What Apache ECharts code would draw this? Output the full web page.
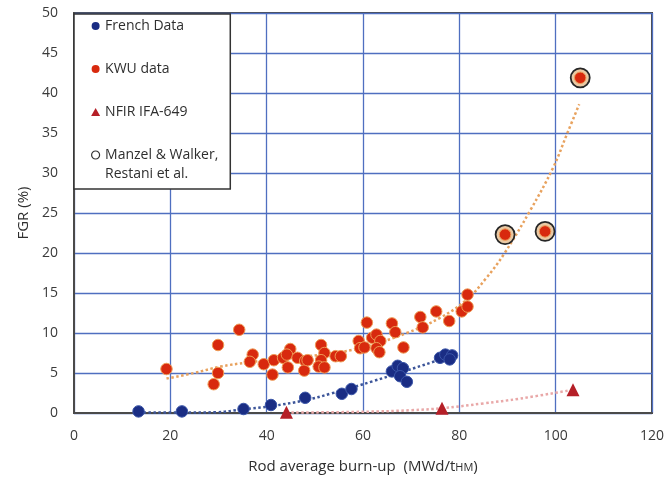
<!DOCTYPE html>
<html>
<head>
<meta charset="utf-8">
<script src="https://cdn.jsdelivr.net/npm/echarts@6/dist/echarts.min.js"></script>
<style>
html,body{margin:0;padding:0;background:#fff;}
#chart{width:667px;height:479px;}
</style>
</head>
<body>
<div id="chart"></div>
<script>
// ---- data ----
var frenchData = [
  [13.4,0.2],[22.4,0.2],[35.2,0.5],[40.9,1.0],[48.0,1.9],[55.6,2.4],[57.6,3.0],
  [66.0,5.2],[67.2,5.9],[68.3,5.6],[67.7,4.6],[69.1,3.9],[76.0,6.9],[77.1,7.3],[78.5,7.2],[78.0,6.7]
];
var kwuData = [
  [19.2,5.5],[29.9,8.5],[29.9,5.0],[29.0,3.6],[34.3,10.4],[37.1,7.3],[36.5,6.4],[39.4,6.1],
  [41.2,4.8],[41.5,6.6],[43.4,6.9],[44.9,8.0],[44.2,7.3],[44.4,5.7],[46.4,6.9],[48.0,6.5],
  [47.8,5.3],[48.5,6.6],[51.3,8.5],[52.0,7.5],[51.3,6.6],[50.8,5.8],[52.0,5.7],[54.3,7.1],
  [55.4,7.1],[59.1,9.0],[59.4,8.1],[60.3,8.2],[60.8,11.3],[61.9,9.4],[62.8,9.8],[63.6,9.0],
  [62.8,8.1],[63.4,7.6],[66.0,11.2],[66.7,10.1],[68.4,8.2],[71.9,12.0],[72.4,10.7],[75.2,12.7],
  [77.9,11.5],[80.5,12.7],[81.7,13.3],[81.7,14.8],[89.5,22.3],[97.8,22.7],[105.1,41.9]
];
var nfirData = [[44.1,0.1],[76.4,0.6],[103.6,2.9]];
var manzelData = [[89.5,22.3],[97.8,22.7],[105.1,41.9]];

// dotted trend lines
var frenchTrend = [[13.4,0.05],[22,0.05],[29.6,0.1],[35,0.45],[40.9,0.85],[48,1.6],[53.2,2.4],[62.2,4.0],[72.6,6.0],[79,7.3]];
var kwuTrend = [[19.2,4.3],[24.9,5.0],[30.4,5.8],[35.9,6.3],[42,6.7],[48.4,7.1],[55.3,7.6],[62.2,8.6],[69.1,10.0],[76,11.9],[81.6,14.2],[85.5,16.8],[89.2,19.8],[94.7,25.3],[99.5,30.7],[102.3,34.8],[104.9,38.6]];
var nfirTrend = [[44.1,0.05],[60,0.15],[70,0.35],[76.4,0.6],[85,1.2],[92.6,1.8],[103.6,2.9]];

var xTicks = {min:0, max:120, interval:20};
var yTicks = {min:0, max:50, interval:5};

var names = ['French Data','KWU data','NFIR IFA-649','Manzel & Walker,'];

var chart = echarts.init(document.getElementById('chart'), null, {renderer:'canvas'});
var FONT = '"Open Sans", sans-serif';
var dotted = [2.5, 2.5];

chart.setOption({
  backgroundColor:'#ffffff',
  animation:false,
  textStyle:{fontFamily:FONT},
  grid:{left:74, right:15, top:13, bottom:66, show:true, borderColor:'#4a4a4a', borderWidth:2, backgroundColor:'transparent'},
  xAxis:{
    type:'value', min:xTicks.min, max:xTicks.max, interval:xTicks.interval,
    axisLine:{show:true, lineStyle:{color:'#4a4a4a', width:2}},
    axisTick:{show:false},
    splitLine:{show:true, lineStyle:{color:'#4f6fc0', width:1.3}},
    axisLabel:{color:'#3a3a3a', fontSize:14, margin:16, fontFamily:FONT},
    name:'{a|Rod average burn-up  (MWd/t}{b|HM}{a|)}',
    nameLocation:'middle', nameGap:46,
    nameTextStyle:{rich:{a:{fontSize:15, color:'#2e2e2e', fontFamily:FONT}, b:{fontSize:11, color:'#2e2e2e', fontFamily:FONT, padding:[3,0,0,0]}}}
  },
  yAxis:{
    type:'value', min:yTicks.min, max:yTicks.max, interval:yTicks.interval,
    axisLine:{show:true, lineStyle:{color:'#4a4a4a', width:2}},
    axisTick:{show:false},
    splitLine:{show:true, lineStyle:{color:'#4f6fc0', width:1.3}},
    axisLabel:{color:'#3a3a3a', fontSize:14, margin:16, fontFamily:FONT},
    name:'FGR (%)', nameLocation:'middle', nameGap:42, nameRotate:90,
    nameTextStyle:{fontSize:15, color:'#2e2e2e', fontFamily:FONT}
  },
  legend:{
    orient:'vertical', left:74, top:14,
    padding:[4,12,26,17], itemGap:27, itemWidth:9, itemHeight:8,
    backgroundColor:'#ffffff', borderColor:'#333', borderWidth:1.5, borderRadius:0,
    textStyle:{fontSize:14, color:'#2e2e2e', lineHeight:16, fontFamily:FONT},
    data:[
      {name:names[0], icon:'circle', itemStyle:{color:'#1a2d84', borderWidth:0}},
      {name:names[1], icon:'circle', itemStyle:{color:'#d8290e', borderWidth:0}},
      {name:names[2], icon:'triangle', itemStyle:{color:'#b51f27', borderWidth:0}},
      {name:names[3], icon:'circle', itemStyle:{color:'#ffffff', borderColor:'#333', borderWidth:1.2}}
    ],
    z:10
  },
  graphic:[{
    type:'text', left:105, top:167, z:100,
    style:{text:'Restani et al.', fill:'#2e2e2e', font:'14px "Open Sans", sans-serif'}
  }],
  series:[
    {type:'line', data:kwuTrend, smooth:0.4, showSymbol:false, silent:true, z:1,
     lineStyle:{color:'#e8a25e', width:2.5, type:dotted}},
    {type:'line', data:frenchTrend, smooth:0.4, showSymbol:false, silent:true, z:1,
     lineStyle:{color:'#3c5599', width:2.5, type:dotted}},
    {type:'line', data:nfirTrend, smooth:0.4, showSymbol:false, silent:true, z:1,
     lineStyle:{color:'#e9a8a8', width:2.5, type:dotted}},
    {name:names[3], type:'scatter', data:manzelData, symbol:'circle', symbolSize:19, z:2,
     itemStyle:{color:'#e9c9a4', borderColor:'#262626', borderWidth:1.8, opacity:1}},
    {name:names[1], type:'scatter', data:kwuData, symbol:'circle', symbolSize:11.5, z:3,
     itemStyle:{color:'#d8290e', borderColor:'#ee9a55', borderWidth:1, opacity:1}},
    {name:names[0], type:'scatter', data:frenchData, symbol:'circle', symbolSize:11.5, z:3,
     itemStyle:{color:'#1a2d84', borderColor:'#3a55a8', borderWidth:1, opacity:1}},
    {name:names[2], type:'scatter', data:nfirData, symbol:'triangle', symbolSize:13, z:3,
     itemStyle:{color:'#b51f27', opacity:1}}
  ]
});
</script>
</body>
</html>
